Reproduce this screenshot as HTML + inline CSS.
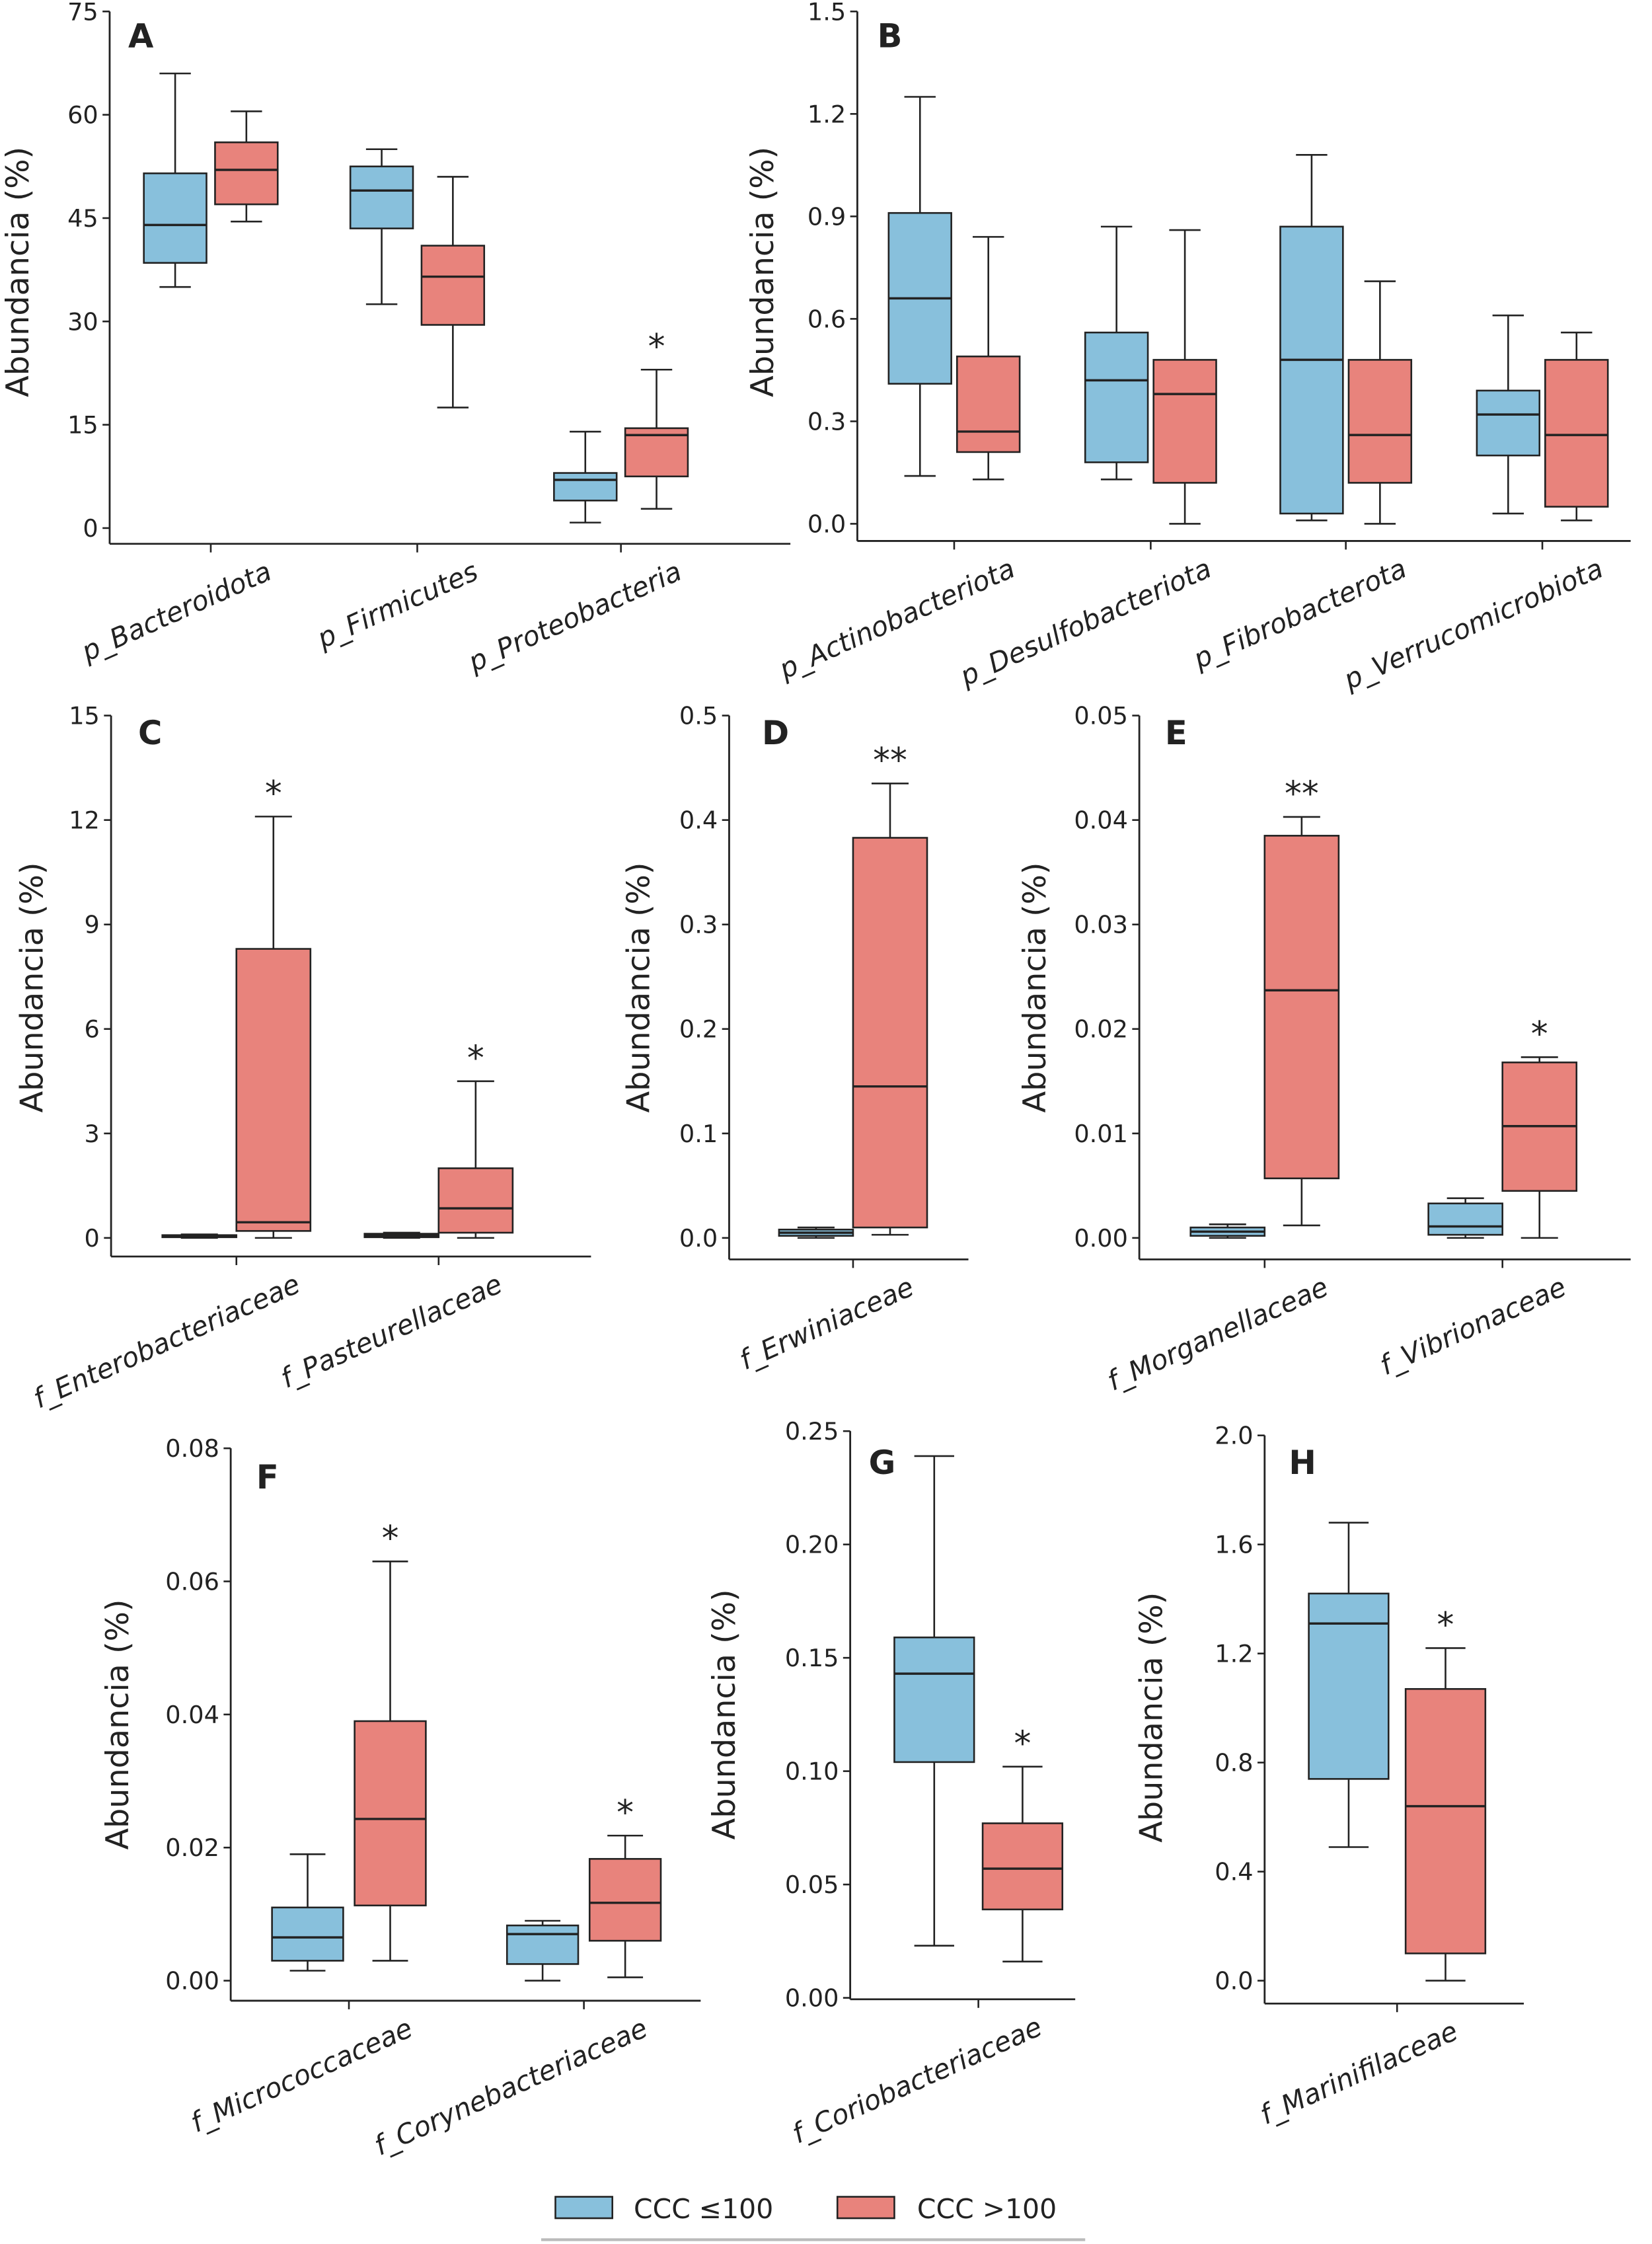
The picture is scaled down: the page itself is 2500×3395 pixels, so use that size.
<!DOCTYPE html>
<html><head><meta charset="utf-8">
<style>
html,body{margin:0;padding:0;background:#fff;}
svg{display:block;}
text{font-family:"DejaVu Sans","Liberation Sans",sans-serif;fill:#222;}
</style></head>
<body>
<svg id="fig" width="2500" height="3395" viewBox="0 0 1160 1568" preserveAspectRatio="none" xmlns="http://www.w3.org/2000/svg">
<g id="legend">
<rect x="390" y="1535" width="40" height="15" fill="#88c0dc" stroke="#222" stroke-width="1.2"/>
<text x="445" y="1550" font-size="19">CCC ≤100</text>
<rect x="588" y="1535" width="40" height="15" fill="#e8837c" stroke="#222" stroke-width="1.2"/>
<text x="644" y="1550" font-size="19">CCC &gt;100</text>
<line x1="380" y1="1565" x2="762" y2="1565" stroke="#bbb" stroke-width="2"/>
</g>
</svg>
<script>
// ---- data (each box: [min, q1, median, q3, max]) ----
const catsA=["p_Bacteroidota","p_Firmicutes","p_Proteobacteria"];
const lowA=[[35,38.5,44,51.5,66],[32.5,43.5,49,52.5,55],[0.8,4,7,8,14]];
const highA=[[44.5,47,52,56,60.5],[17.5,29.5,36.5,41,51],[2.8,7.5,13.5,14.5,23]];
const sigA=["","","*"];
const ticksA=[0,15,30,45,60,75];

const catsB=["p_Actinobacteriota","p_Desulfobacteriota","p_Fibrobacterota","p_Verrucomicrobiota"];
const lowB=[[0.14,0.41,0.66,0.91,1.25],[0.13,0.18,0.42,0.56,0.87],[0.01,0.03,0.48,0.87,1.08],[0.03,0.2,0.32,0.39,0.61]];
const highB=[[0.13,0.21,0.27,0.49,0.84],[0.0,0.12,0.38,0.48,0.86],[0.0,0.12,0.26,0.48,0.71],[0.01,0.05,0.26,0.48,0.56]];
const sigB=["","","",""];
const ticksB=[0,0.3,0.6,0.9,1.2,1.5];

const catsC=["f_Enterobacteriaceae","f_Pasteurellaceae"];
const lowC=[[0,0.02,0.05,0.08,0.1],[0,0.02,0.07,0.12,0.15]];
const highC=[[0,0.2,0.45,8.3,12.1],[0,0.15,0.85,2.0,4.5]];
const sigC=["*","*"];
const ticksC=[0,3,6,9,12,15];

const catsD=["f_Erwiniaceae"];
const lowD=[[0,0.002,0.005,0.008,0.01]];
const highD=[[0.003,0.01,0.145,0.383,0.435]];
const sigD=["**"];
const ticksD=[0,0.1,0.2,0.3,0.4,0.5];

const catsE=["f_Morganellaceae","f_Vibrionaceae"];
const lowE=[[0,0.0002,0.0006,0.001,0.0013],[0,0.0003,0.0011,0.0033,0.0038]];
const highE=[[0.0012,0.0057,0.0237,0.0385,0.0403],[0,0.0045,0.0107,0.0168,0.0173]];
const sigE=["**","*"];
const ticksE=[0,0.01,0.02,0.03,0.04,0.05];

const catsF=["f_Micrococcaceae","f_Corynebacteriaceae"];
const lowF=[[0.0015,0.003,0.0065,0.011,0.019],[0,0.0025,0.007,0.0083,0.009]];
const highF=[[0.003,0.0113,0.0243,0.039,0.063],[0.0005,0.006,0.0117,0.0183,0.0218]];
const sigF=["*","*"];
const ticksF=[0,0.02,0.04,0.06,0.08];

const catsG=["f_Coriobacteriaceae"];
const lowG=[[0.023,0.104,0.143,0.159,0.239]];
const highG=[[0.016,0.039,0.057,0.077,0.102]];
const sigG=["*"];
const ticksG=[0,0.05,0.10,0.15,0.20,0.25];

const catsH=["f_Marinifilaceae"];
const lowH=[[0.49,0.74,1.31,1.42,1.68]];
const highH=[[0,0.1,0.64,1.07,1.22]];
const sigH=["*"];
const ticksH=[0,0.4,0.8,1.2,1.6,2.0];

const NS="http://www.w3.org/2000/svg";
const svg=document.getElementById('fig');
function mk(tag,attrs,parent){const e=document.createElementNS(NS,tag);for(const k in attrs)e.setAttribute(k,attrs[k]);parent.appendChild(e);return e;}

function panel(o){
  const g=mk('g',{},svg);
  
  
  const ymin=o.ticks[0],ymax=o.ticks[o.ticks.length-1];
  const Y=v=>o.y0+(v-ymin)/(ymax-ymin)*(o.yTop-o.y0);
  const ya=mk('line',{x1:o.ax,y1:o.axTop,x2:o.ax,y2:o.axY,stroke:'#222','stroke-width':1.3},g);
  
  
  const xa=mk('line',{x1:o.ax,y1:o.axY,x2:o.axEnd,y2:o.axY,stroke:'#222','stroke-width':1.3},g);
  
  
  o.ticks.forEach(t=>{
    const y=Y(t);
    mk('line',{x1:o.ax-5,y1:y,x2:o.ax,y2:y,stroke:'#222','stroke-width':1.2},g);
    const tx=mk('text',{x:o.ax-8,y:y+6,'font-size':17,'text-anchor':'end'},g);
    tx.textContent=o.fmt(t);
    
    
  });
  const yt=mk('text',{x:o.titleX,y:o.titleY,'font-size':22,'text-anchor':'middle',transform:`rotate(-90 ${o.titleX} ${o.titleY})`},g);
  yt.textContent='Abundancia (%)';
  
  
  const lt=mk('text',{x:o.lx,y:o.ly,'font-size':23,'font-weight':'bold'},g);
  lt.textContent=o.letter;
  
  
  o.cats.forEach((c,i)=>{
    const cx=o.cx[i];
    mk('line',{x1:cx,y1:o.axY,x2:cx,y2:o.axY+6,stroke:'#222','stroke-width':1.2},g);
    const lx=cx+o.labOff+4,ly=o.axY+24;
    const cl=mk('text',{x:lx,y:ly,'font-size':19,'font-style':'italic','text-anchor':'end',transform:`rotate(-24 ${lx} ${ly})`},g);
    cl.textContent=c;
    
    
    [[o.low[i],cx-o.off,'#88c0dc','box-low'],[o.high[i],cx+o.off,'#e8837c','box-high']].forEach(([d,bx,col,nm])=>{
      const bg=mk('g',{},g);
      
      
      const hw=o.hw;
      mk('line',{x1:bx,y1:Y(d[0]),x2:bx,y2:Y(d[4]),stroke:'#222','stroke-width':1.2},bg);
      mk('line',{x1:bx-hw/2,y1:Y(d[0]),x2:bx+hw/2,y2:Y(d[0]),stroke:'#222','stroke-width':1.2},bg);
      mk('line',{x1:bx-hw/2,y1:Y(d[4]),x2:bx+hw/2,y2:Y(d[4]),stroke:'#222','stroke-width':1.2},bg);
      mk('rect',{x:bx-hw,y:Y(d[3]),width:2*hw,height:Math.max(1,Y(d[1])-Y(d[3])),fill:col,stroke:'#222','stroke-width':1.2},bg);
      mk('line',{x1:bx-hw,y1:Y(d[2]),x2:bx+hw,y2:Y(d[2]),stroke:'#222','stroke-width':1.6},bg);
    });
    if(o.sig[i]){
      const bx=cx+o.off;
      const st=mk('text',{x:bx,y:Y(o.high[i][4])-8,'font-size':24,'text-anchor':'middle'},g);
      st.textContent=o.sig[i];
      
      
    }
  });
}
const f0=t=>String(t), f1=t=>t.toFixed(1), f2=t=>t.toFixed(2);
panel({letter:'A',cats:catsA,low:lowA,high:highA,sig:sigA,ticks:ticksA,fmt:f0,ax:77,axTop:8,axY:380,axEnd:555,y0:369,yTop:8,cx:[148,293,436],off:25,hw:22,titleX:20,titleY:190,lx:90,ly:33,labOff:40});
panel({letter:'B',cats:catsB,low:lowB,high:highB,sig:sigB,ticks:ticksB,fmt:f1,ax:602,axTop:8,axY:378,axEnd:1145,y0:366,yTop:8,cx:[670,808,945,1083],off:24,hw:22,titleX:543,titleY:190,lx:616,ly:33,labOff:40});
panel({letter:'C',cats:catsC,low:lowC,high:highC,sig:sigC,ticks:ticksC,fmt:f0,ax:78,axTop:500,axY:878,axEnd:415,y0:865,yTop:500,cx:[166,308],off:26,hw:26,titleX:30,titleY:690,lx:97,ly:520,labOff:42});
panel({letter:'D',cats:catsD,low:lowD,high:highD,sig:sigD,ticks:ticksD,fmt:f1,ax:512,axTop:500,axY:880,axEnd:680,y0:865,yTop:500,cx:[599],off:26,hw:26,titleX:456,titleY:690,lx:535,ly:520,labOff:40});
panel({letter:'E',cats:catsE,low:lowE,high:highE,sig:sigE,ticks:ticksE,fmt:f2,ax:800,axTop:500,axY:880,axEnd:1145,y0:865,yTop:500,cx:[888,1055],off:26,hw:26,titleX:734,titleY:690,lx:818,ly:520,labOff:42});
panel({letter:'F',cats:catsF,low:lowF,high:highF,sig:sigF,ticks:ticksF,fmt:f2,ax:162,axTop:1012,axY:1398,axEnd:492,y0:1384,yTop:1012,cx:[245,410],off:29,hw:25,titleX:90,titleY:1205,lx:180,ly:1040,labOff:42});
panel({letter:'G',cats:catsG,low:lowG,high:highG,sig:sigG,ticks:ticksG,fmt:f2,ax:597,axTop:1000,axY:1397,axEnd:755,y0:1396,yTop:1000,cx:[687],off:31,hw:28,titleX:516,titleY:1198,lx:610,ly:1030,labOff:42});
panel({letter:'H',cats:catsH,low:lowH,high:highH,sig:sigH,ticks:ticksH,fmt:f1,ax:888,axTop:1003,axY:1400,axEnd:1070,y0:1384,yTop:1003,cx:[981],off:34,hw:28,titleX:816,titleY:1200,lx:905,ly:1030,labOff:40});
</script>
</body></html>
